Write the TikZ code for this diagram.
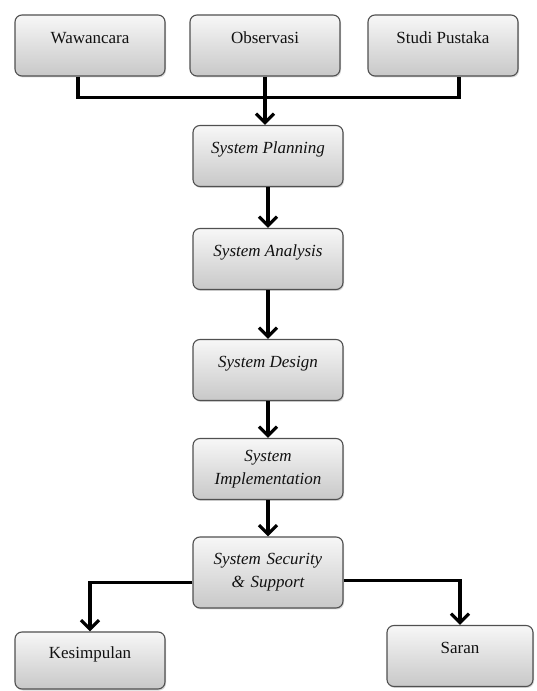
\documentclass[tikz,border=0pt]{standalone}
\usepackage{fontspec}
\setmainfont{Liberation Serif}
\usepackage{tikz}
\usetikzlibrary{arrows.meta,positioning,shadows}
\definecolor{fcline}{HTML}{505050}
\definecolor{fctop}{HTML}{F7F7F7}
\definecolor{fcbot}{HTML}{C8C8C8}
\definecolor{fcink}{HTML}{111111}
\tikzset{
  box/.style={draw=fcline,line width=1.1pt,rounded corners=7pt,
              top color=fctop,bottom color=fcbot,
              drop shadow={shadow xshift=1pt,shadow yshift=-1.5pt,opacity=0.3},
              minimum width=150pt,minimum height=61pt,inner sep=0pt,
              font=\fontsize{17}{23}\selectfont,text=fcink},
  onel/.style={text height=12pt,text depth=16pt},
  twol/.style={align=center,text width=146pt},
  sys/.style={font=\fontsize{17}{23}\selectfont\itshape},
  wire/.style={line width=3.5pt,draw=black},
  flow/.style={wire,-{Straight Barb[length=9pt,width=18pt,line width=3.2pt]}},
}

\begin{document}
\begin{tikzpicture}[x=1pt,y=1pt]
  \useasboundingbox (0,0) rectangle (536,691);

  % ---------- sources ----------
  \node[box,onel] (wwc) at (90,645.5) {Wawancara};
  \node[box,onel] (obs) at (265,645.5) {Observasi};
  \node[box,onel] (stp) at (443,645.5) {Studi Pustaka};

  % ---------- SDLC stages ----------
  \node[box,onel,sys] (spl) at (268,535) {System Planning};
  \node[box,onel,sys] (san) at (268,432) {System Analysis};
  \node[box,onel,sys] (sds) at (268,321) {System Design};
  \node[box,twol,sys] (sim) at (268,222) {System\\Implementation};
  \node[box,twol,sys,minimum height=71pt] (ssc) at (268,118.5) {System Security\\\& Support};

  % ---------- results ----------
  \node[box,onel,minimum height=57pt] (ksm) at (90,30.5) {Kesimpulan};
  \node[box,onel,minimum width=146pt] (srn) at (460,35) {Saran};

  % ---------- connectors ----------
  \draw[wire] ([xshift=-12pt]wwc.south) |- ([yshift=-21pt]obs.south) -| ([xshift=16pt]stp.south);
  \draw[flow] (obs.south) -- (obs.south |- spl.north);
  \draw[flow] (spl) -- (san);
  \draw[flow] (san) -- (sds);
  \draw[flow] (sds) -- (sim);
  \draw[flow] (sim) -- (ssc);
  \draw[flow] ([yshift=-10pt]ssc.west) -| (ksm.north);
  \draw[flow] ([yshift=-8pt]ssc.east) -| (srn.north);
\end{tikzpicture}
\end{document}
